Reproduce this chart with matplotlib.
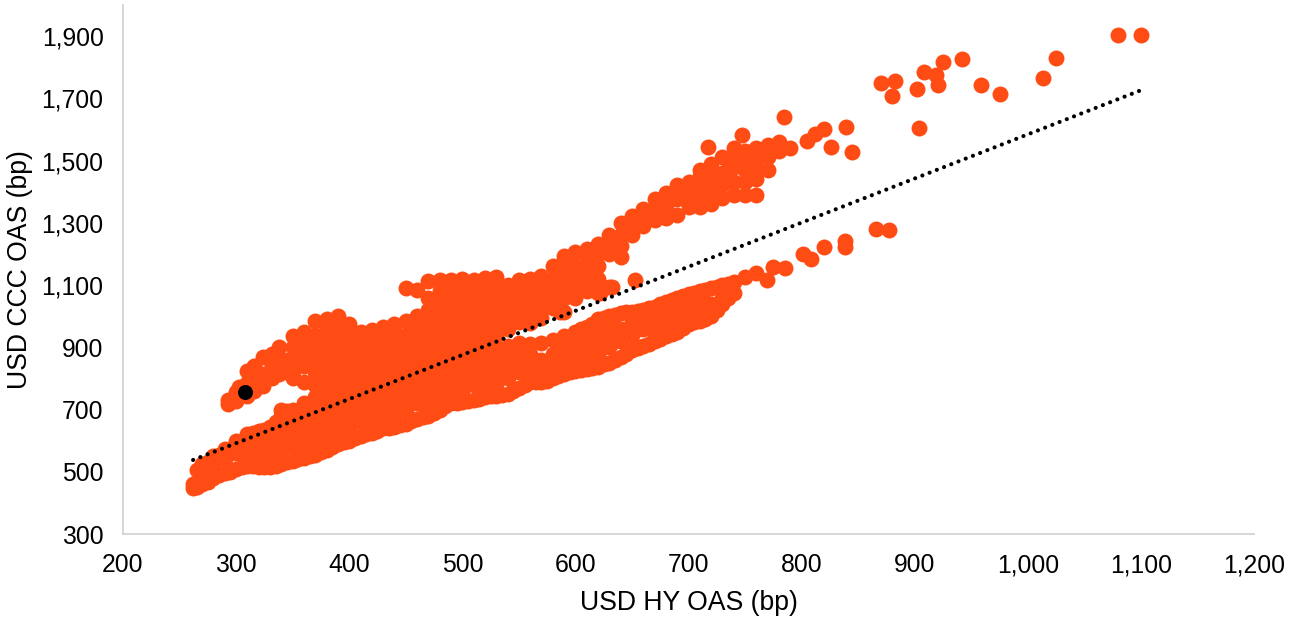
import matplotlib
matplotlib.use('Agg')
import matplotlib.pyplot as plt

plt.rcParams['font.family']=['Liberation Sans','DejaVu Sans']

# spreads, grouped by HY OAS column: (hy, [ccc values])
low_tail=[(262,[447,462]),(270,[460,500,525]),(280,[480,520,550]),(290,[495,540,572]),
    (300,[510,560,600]),(310,[520,540,580,620]),(320,[515,560,600,632]),
    (330,[515,540,580,620,645]),(340,[525,560,600,640,680,700])]

upper_lobe=[(293,[718,730]),(300,[728,740,755]),(303,[772]),(310,[745,785,825]),(316,[760,800,840]),
    (324,[775,815,868]),(332,[800,840,880]),(338,[815,860,900]),(345,[820,860])]

main_blob=[(350,[535,580,620,660,700,800,820,860,900,935]),
    (360,[545,560,600,640,680,720,790,840,880,920,950]),
    (370,[555,580,620,660,700,740,780,820,860,900,940,985]),
    (380,[570,600,640,680,720,760,800,840,880,920,960,990]),
    (390,[590,620,660,700,740,780,820,860,900,940,980,1000]),
    (400,[600,640,680,720,760,800,840,880,920,960,975]),
    (410,[615,660,700,740,780,820,860,900,940,948]),
    (420,[625,640,680,720,760,800,840,880,920,955]),
    (430,[640,660,700,740,780,820,860,900,940,965]),
    (440,[645,680,720,760,800,840,880,920,960,975]),
    (450,[655,700,740,780,820,860,900,940,985,1090]),
    (460,[670,720,760,800,840,880,920,960,1000,1085]),
    (470,[680,700,740,780,820,860,900,940,980,1020,1060,1112]),
    (480,[700,720,760,800,840,880,920,960,1000,1040,1080,1116]),
    (490,[720,740,780,820,860,900,940,980,1020,1060,1100,1115]),
    (500,[725,760,800,840,880,920,960,1000,1040,1080,1120]),
    (510,[730,780,820,860,900,940,980,1020,1060,1100,1115]),
    (520,[740,760,800,840,880,920,960,1000,1040,1080,1122]),
    (530,[745,780,820,860,900,940,980,1020,1060,1100,1125]),
    (540,[750,800,840,880,905,960,1000,1040,1080,1100]),
    (550,[770,820,860,900,915,980,1020,1060,1100,1116]),
    (560,[790,800,840,880,910,978,1000,1040,1080,1120]),
    (570,[790,820,860,915,995,1020,1060,1100,1130]),
    (580,[800,840,880,925,1025,1040,1080,1120,1160]),
    (590,[815,860,900,935,1014,1060,1100,1140,1180,1192]),
    (600,[825,840,880,920,950,1060,1080,1120,1160,1205]),
    (610,[830,860,900,940,965,1080,1100,1140,1180,1215]),
    (620,[838,880,920,960,990,1075,1120,1160,1200,1232])]

lower_band=[(630,[850,900,940,980,1000]),(640,[870,920,960,1010]),(650,[890,940,980,1015]),
    (660,[905,960,1000,1020]),(670,[920,940,980,1020,1030]),(680,[935,960,1000,1045]),
    (690,[950,980,1020,1060]),(700,[975,1000,1040,1070]),(710,[985,1020,1060,1080]),
    (720,[1000,1040,1090]),(730,[1040,1060,1100]),(740,[1075,1110])]

upper_band=[(630,[1094,1200,1240,1262]),(640,[1190,1225,1262,1298]),(650,[1260,1290,1322]),
    (660,[1290,1320,1345]),(670,[1310,1345,1375]),(680,[1315,1355,1395]),(690,[1325,1375,1420]),
    (700,[1350,1390,1430]),(710,[1350,1385,1420,1450,1470]),(720,[1360,1400,1440,1470,1490]),
    (730,[1380,1420,1460,1510]),(740,[1390,1430,1480,1510,1540]),(750,[1390,1430,1470,1500,1530]),
    (760,[1390,1440,1480,1510,1540]),(770,[1470,1510,1550]),(780,[1530,1560])]

# in-between columns along the band edges
edge_columns=[(265,[452,505]),(275,[468,530]),(285,[488,555]),(295,[500,570]),(305,[515,600]),
    (315,[520,625]),(325,[515,635]),(335,[520,660]),(345,[530,695]),(355,[540]),(365,[550]),
    (375,[562]),(385,[580]),(395,[595]),(405,[608]),(415,[620]),(425,[632]),(435,[642]),
    (445,[650]),(455,[662]),(465,[675]),(475,[690]),(485,[710]),(495,[722]),(505,[728]),
    (515,[735]),(525,[742]),(535,[748]),(545,[760]),(555,[780]),(565,[790]),(575,[792]),
    (585,[808]),(595,[820]),(605,[828,958]),(615,[835,975]),(625,[845,900,995,1215]),
    (635,[860,920,1005,1245]),(645,[880,940,1012,1280]),(655,[898,960,1018,1305]),
    (665,[912,980,1025,1330]),(675,[928,985,1038,1355]),(685,[942,1000,1052,1380]),
    (695,[962,1020,1065,1395]),(705,[980,1030,1075,1420]),(715,[992,1040,1085,1430]),
    (725,[1020,1095,1450]),(735,[1060,1105,1470]),(745,[1490])]

# single points around the bands
single_hy=[653,632,622,586,717,747,790,784,805,812,820,826,839,845,870,883,880,
    902,904,908,919,921,925,942,959,975,1013,1025,1080,1100,
    750,760,769,775,785,801,808,820,838,838,866,877]
single_ccc=[1116,1094,1075,1014,1544,1582,1540,1640,1563,1585,1600,1543,1608,1528,1750,1755,1708,
    1730,1605,1785,1775,1743,1817,1826,1743,1714,1765,1830,1903,1903,
    1126,1139,1116,1158,1155,1200,1184,1222,1240,1222,1280,1278]

latest_hy=[308]
latest_ccc=[757]

trend_hy=[262,1100]
trend_ccc=[538,1726]

xticks=list(range(200,1300,100))
yticks=list(range(300,2000,200))

hy,ccc=list(single_hy),list(single_ccc)
for group in [low_tail,upper_lobe,main_blob,lower_band,upper_band,edge_columns]:
    for x,ys in group:
        for y in ys:
            hy.append(x)
            ccc.append(y)

fig=plt.figure(figsize=(12.99,6.18),dpi=100)
ax=fig.add_axes([123/1299,1-534/618,(1254-123)/1299,(534-5)/618])

ax.scatter(hy,ccc,s=132,color='#FF4B14',linewidths=0,zorder=2,clip_on=False)
ax.plot(trend_hy,trend_ccc,color='black',lw=3.0,linestyle=(0,(0.01,1.85)),
    dash_capstyle='round',zorder=3)
ax.scatter(latest_hy,latest_ccc,s=117,color='black',linewidths=0,zorder=4)

ax.set_xlim(200,1200)
ax.set_ylim(300,2000)
ax.set_xticks(xticks)
ax.set_yticks(yticks)
ax.set_xticklabels([f'{v:,}' for v in xticks])
ax.set_yticklabels([f'{v:,}' for v in yticks])
ax.tick_params(length=0,labelsize=17.8,colors='#000000',pad=14)
ax.set_xlabel('USD HY OAS (bp)',fontsize=19.2,labelpad=9)
ax.set_ylabel('USD CCC OAS (bp)',fontsize=19.2,labelpad=6)

for s in ['top','right']:
    ax.spines[s].set_visible(False)
for s in ['left','bottom']:
    ax.spines[s].set_color('#D0D0D0')
    ax.spines[s].set_linewidth(1.2)

fig.savefig('out.png',dpi=100)
